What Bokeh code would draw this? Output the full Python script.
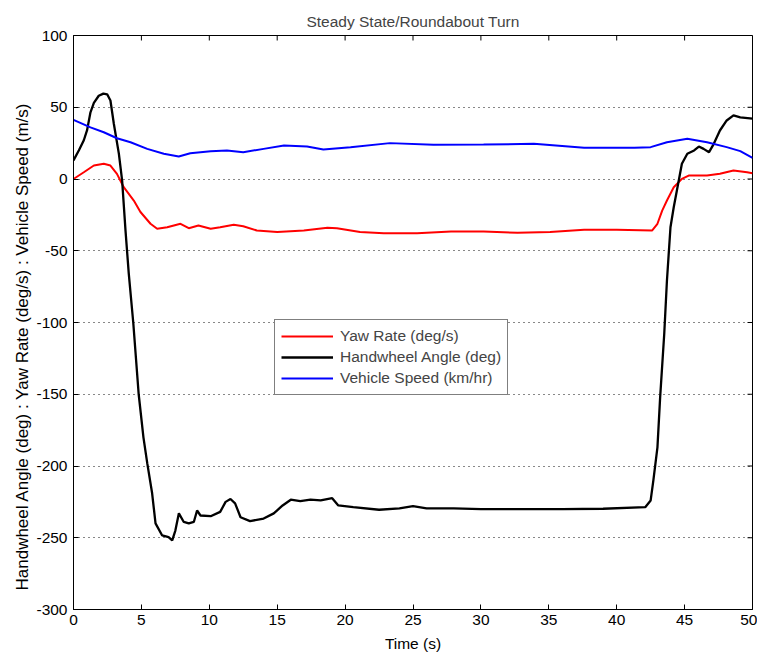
from bokeh.plotting import figure
from bokeh.models import Range1d, FixedTicker, Legend, LegendItem, Title
from bokeh.embed import file_html
from bokeh.resources import INLINE

title_text = "Steady State/Roundabout Turn"
x_label = "Time (s)"
y_label = "Handwheel Angle (deg) : Yaw Rate (deg/s) : Vehicle Speed (m/s)"
series_names = ["Yaw Rate (deg/s)", "Handwheel Angle (deg)", "Vehicle Speed (km/hr)"]
x_ticks = [0, 5, 10, 15, 20, 25, 30, 35, 40, 45, 50]
y_ticks = [-300, -250, -200, -150, -100, -50, 0, 50, 100]

t_yaw = [0, 0.76, 1.5, 2.23, 2.72, 3.2, 3.7, 4.44, 4.93, 5.67, 6.16, 6.9, 7.88, 8.49, 9.2,
         10.1, 10.8, 11.8, 12.5, 13.5, 15.0, 16.96, 18.7, 19.4, 21.1, 22.85, 25.3, 27.8, 30.2,
         32.7, 35.1, 37.6, 40.0, 42.6, 43.0, 43.35, 43.7, 44.2, 44.8, 45.3, 46.65, 47.6, 48.6,
         49.6, 50.0]
yaw = [0, 4.7, 9.4, 10.6, 9.4, 3.6, -5.7, -15, -23, -31.2, -34.7, -33.6, -31.2, -34.3, -32.4,
       -34.7, -33.6, -31.9, -32.9, -35.9, -37, -35.9, -34, -34.3, -37, -37.8, -37.8, -36.6, -36.6,
       -37.5, -37, -35.4, -35.4, -35.9, -31.2, -22, -15, -5.7, 0.1, 2.4, 2.4, 3.6, 5.9,
       4.7, 4.0]

t_hw = [0, 0.4, 0.76, 1.0, 1.25, 1.5, 1.86, 2.2, 2.48, 2.72, 2.97, 3.34, 3.58, 3.83, 4.07,
        4.4, 4.8, 5.15, 5.43, 5.79, 6.04, 6.53, 7.0, 7.27, 7.5, 7.76, 8.12, 8.49, 8.86, 9.1,
        9.35, 10.1, 10.8, 11.2, 11.56, 11.9, 12.3, 13.0, 14.0, 14.75, 15.4, 16.0, 16.7, 17.45,
        18.2, 19.05, 19.5, 20.6, 22.5, 24.0, 25.0, 26.0, 28.0, 30.0, 33.0, 36.0, 39.0, 42.1,
        42.5, 42.7, 43.0, 43.2, 43.5, 43.7, 43.96, 44.2, 44.57, 44.8, 45.2, 45.7, 46.05, 46.4,
        46.8, 47.15, 47.6, 48.1, 48.6, 49.1, 50.0]
hw = [13, 20, 27, 34, 46.5, 53, 58, 59.5, 59, 54.7, 38.5, 17.7, -1, -36, -66,
      -100, -150, -180, -198, -219, -240, -248.4, -249.5, -251.8, -245, -233, -239, -240, -239, -231,
      -234.5, -235, -232, -225, -223, -226, -235.7, -238.4, -236.6, -233, -227.5, -223.5, -224.5, -223.5,
      -224, -222.4, -227.5, -228.7, -230.5, -229.5, -228, -229.5, -229.5, -230, -230, -230, -229.8, -228.7,
      -224, -210, -187, -152, -108, -70.7, -33.6, -19.7, -1, 10.6, 17.6, 19.9, 22.6, 21,
      18.7, 24.5, 33.8, 40.8, 44.3, 43, 42]

t_spd = [0, 1.25, 2.23, 3.2, 4.2, 5.43, 6.65, 7.75, 8.6, 10.1, 11.3, 12.5, 14.0, 15.5, 17.2,
         18.4, 20.4, 23.3, 26.5, 30.2, 33.9, 37.6, 41.3, 42.5, 43.7, 45.2, 46.65, 48.1, 49.1, 50.0]
spd = [41.2, 36, 32.6, 28.4, 25.6, 21, 17.6, 15.7, 18, 19.4, 19.9, 18.7, 21, 23.3, 22.6,
       20.6, 22.2, 25, 23.8, 24, 24.5, 21.7, 21.7, 22.2, 25.6, 28, 25.6, 22.2, 19.4, 14.8]

FONT = "Liberation Sans"
FS = "15.5px"
FRAME_W, FRAME_H = 679, 574
X0, X1, Y0, Y1 = 0, 50, -300, 100
TICK = 5  # px

p = figure(frame_width=FRAME_W, frame_height=FRAME_H, output_backend="svg", toolbar_location=None,
           x_range=Range1d(X0, X1), y_range=Range1d(Y0, Y1),
           min_border_left=73, min_border_right=5, min_border_top=35, min_border_bottom=46,
           x_axis_label=x_label)
p.title.text = title_text
p.title.align = "center"
p.title.text_font = FONT
p.title.text_font_size = FS
p.title.text_font_style = "normal"
p.title.standoff = 11
p.outline_line_color = "black"
p.background_fill_color = "white"
p.border_fill_color = "white"

p.xgrid.visible = False
p.ygrid.ticker = FixedTicker(ticks=y_ticks)
p.ygrid.grid_line_color = "#111111"
p.ygrid.grid_line_dash = "1 4"
p.ygrid.grid_line_width = 1

for ax, ticks in ((p.xaxis[0], x_ticks), (p.yaxis[0], y_ticks)):
    ax.ticker = FixedTicker(ticks=ticks)
    ax.major_label_overrides = {v: str(v) for v in ticks}
    ax.major_tick_in = TICK
    ax.major_tick_out = 0
    ax.minor_tick_line_color = None
    ax.axis_line_color = "black"
    ax.major_tick_line_color = "black"
    ax.major_label_text_font = FONT
    ax.major_label_text_font_size = FS
    ax.major_label_text_color = "black"
    ax.axis_label_text_font = FONT
    ax.axis_label_text_font_size = FS
    ax.axis_label_text_font_style = "normal"
    ax.axis_label_text_color = "black"
p.xaxis[0].major_label_standoff = 5
p.xaxis[0].axis_label_standoff = 7
p.yaxis[0].major_label_standoff = 6

# y-axis title, placed as in the reference (its lower end just above the frame bottom)
ytitle = Title(text=y_label, align="left", offset=19, standoff=3,
               text_font=FONT, text_font_size="17px", text_font_style="normal",
               text_color="black")
p.add_layout(ytitle, "left")

# inward ticks on the top and right edges of the box (MATLAB style)
dx = TICK * (X1 - X0) / FRAME_W
dy = TICK * (Y1 - Y0) / FRAME_H
p.segment(x0=x_ticks, y0=[Y1] * len(x_ticks), x1=x_ticks, y1=[Y1 - dy] * len(x_ticks),
          line_color="black", line_width=1)
p.segment(x0=[X1] * len(y_ticks), y0=y_ticks, x1=[X1 - dx] * len(y_ticks), y1=y_ticks,
          line_color="black", line_width=1)

r_yaw = p.line(t_yaw, yaw, line_color="#ff0000", line_width=2)
r_hw = p.line(t_hw, hw, line_color="black", line_width=2.3)
r_spd = p.line(t_spd, spd, line_color="#0000ff", line_width=2)

legend = Legend(items=[LegendItem(label=series_names[0], renderers=[r_yaw]),
                       LegendItem(label=series_names[1], renderers=[r_hw]),
                       LegendItem(label=series_names[2], renderers=[r_spd])],
                location=(201, 214))
legend.border_line_color = "black"
legend.border_line_width = 1
legend.background_fill_color = "white"
legend.background_fill_alpha = 1
legend.label_text_font = FONT
legend.label_text_font_size = FS
legend.glyph_width = 52
legend.glyph_height = 20
legend.label_height = 20
legend.spacing = 1
legend.padding = 6
legend.margin = 0
legend.label_standoff = 7
p.add_layout(legend, "center")

open("out.html", "w").write(file_html(p, INLINE))
